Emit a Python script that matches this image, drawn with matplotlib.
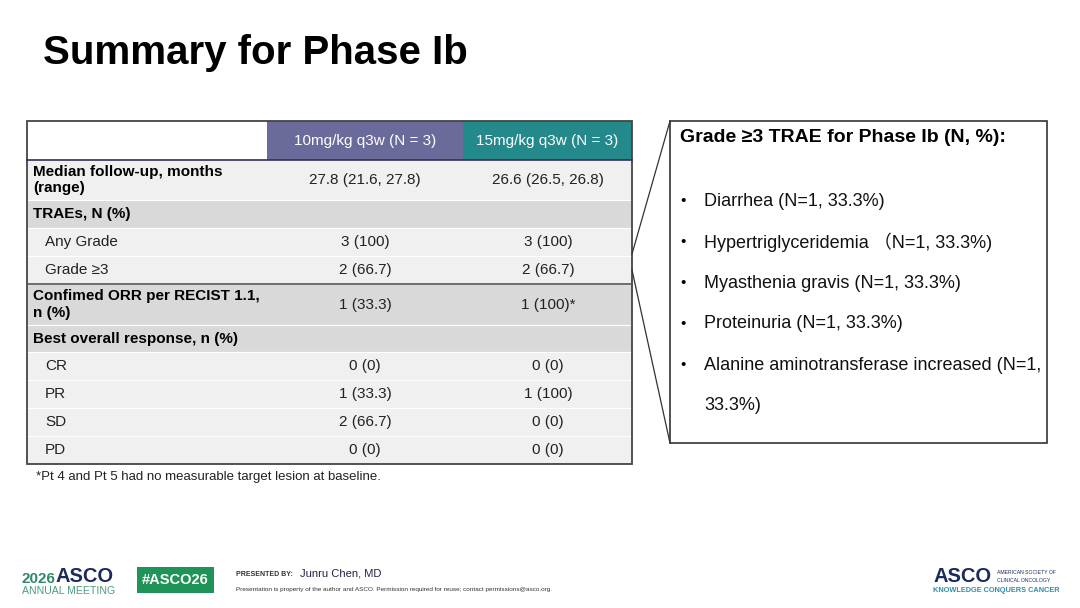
import matplotlib
matplotlib.use("Agg")
import matplotlib.pyplot as plt
from matplotlib.patches import Rectangle

plt.rcParams['font.family'] = ['Liberation Sans', 'Noto Sans CJK SC', 'DejaVu Sans']

# ---------------- data ----------------
title = "Summary for Phase Ib"
col_headers = ["10mg/kg q3w (N = 3)", "15mg/kg q3w (N = 3)"]
row_labels = ["Median follow-up, months\n(range)", "TRAEs, N (%)", "Any Grade", "Grade ≥3",
              "Confimed ORR per RECIST 1.1,\nn (%)", "Best overall response, n (%)",
              "CR", "PR", "SD", "PD"]
dose_10 = ["27.8 (21.6, 27.8)", "", "3 (100)", "2 (66.7)", "1 (33.3)", "", "0 (0)", "1 (33.3)", "2 (66.7)", "0 (0)"]
dose_15 = ["26.6 (26.5, 26.8)", "", "3 (100)", "2 (66.7)", "1 (100)*", "", "0 (0)", "1 (100)", "0 (0)", "0 (0)"]
row_bold = [True, True, False, False, True, True, False, False, False, False]
row_shade = ["light", "dark", "light", "light", "dark", "dark", "light", "light", "light", "light"]
footnote = "*Pt 4 and Pt 5 had no measurable target lesion at baseline."
box_title = "Grade ≥3 TRAE for Phase Ib (N, %):"
box_items = [["Diarrhea (N=1, 33.3%)"], ["Hypertriglyceridemia （N=1, 33.3%)"], ["Myasthenia gravis (N=1, 33.3%)"],
             ["Proteinuria (N=1, 33.3%)"], ["Alanine aminotransferase increased (N=1,", "33.3%)"]]

# ---------------- layout ----------------
W, H = 1080, 608
fig = plt.figure(figsize=(10.8, 6.08), dpi=100)
ax = fig.add_axes([0, 0, 1, 1])
ax.set_xlim(0, W)
ax.set_ylim(H, 0)
ax.axis('off')

shade = {"light": "#f0f0f0", "dark": "#d9d9d9"}
hdr_colors = ["#6b6b9b", "#23898b"]

ax.text(43, 53, title, fontsize=29, fontweight='bold', va='center', ha='left', color='black')

# table geometry
tx0, tx1 = 27, 632
cx = [27, 267, 463, 632]
ytop = 121
hdr_h = 39
row_h = [40, 28, 28, 28, 41, 27, 28, 28, 28, 28]

# header
for j in range(2):
    ax.add_patch(Rectangle((cx[j + 1], ytop), cx[j + 2] - cx[j + 1], hdr_h, facecolor=hdr_colors[j], edgecolor='none'))
    ax.text((cx[j + 1] + cx[j + 2]) / 2, ytop + hdr_h / 2 + 1, col_headers[j], fontsize=11, color='white',
            ha='center', va='center')

y = ytop + hdr_h
val_x = [365, 548]
for i, lab in enumerate(row_labels):
    h = row_h[i]
    ax.add_patch(Rectangle((tx0, y), tx1 - tx0, h, facecolor=shade[row_shade[i]], edgecolor='white', lw=0.8))
    yc = y + h / 2
    if row_bold[i]:
        ax.text(33, yc, lab, fontsize=11, fontweight='bold', ha='left', va='center', linespacing=1.25)
    else:
        ax.text(45, yc, lab, fontsize=11, ha='left', va='center', color='#222222')
    ax.text(val_x[0], yc, dose_10[i], fontsize=11, ha='center', va='center', color='#222222')
    ax.text(val_x[1], yc, dose_15[i], fontsize=11, ha='center', va='center', color='#222222')
    y += h
ybot = y

# lines
ax.plot([tx0, tx1], [ytop + hdr_h, ytop + hdr_h], color='#2e3050', lw=1.2)
y_orr = ytop + hdr_h + sum(row_h[:4])
ax.plot([tx0, tx1], [y_orr, y_orr], color='#555555', lw=1.2)
ax.add_patch(Rectangle((tx0, ytop), tx1 - tx0, ybot - ytop, facecolor='none', edgecolor='#444444', lw=1.3))

ax.text(36, 477, footnote, fontsize=9.5, ha='left', va='center', color='#222222')

# callout box
bx0, bx1, by0, by1 = 670, 1047, 121, 443
ax.plot([632, bx0], [254, by0], color='#333333', lw=0.9)
ax.plot([632, bx0], [270, by1], color='#333333', lw=0.9)
ax.add_patch(Rectangle((bx0, by0), bx1 - bx0, by1 - by0, facecolor='white', edgecolor='#333333', lw=1.2))
ax.text(680, 138, box_title, fontsize=14, fontweight='bold', ha='left', va='center')
yy = 201
for lines in box_items:
    ax.text(680, yy, "•", fontsize=11, ha='left', va='center')
    for ln in lines:
        ax.text(704, yy, ln, fontsize=13, ha='left', va='center', color='#111111')
        yy += 41

# footer
ax.text(22, 579, "2026", fontsize=11, fontweight='bold', color='#2f8a66', ha='left', va='center')
ax.text(55, 576, "ASCO", fontsize=14.5, fontweight='bold', color='#1c2a5e', ha='left', va='center')
ax.text(22, 590.5, "ANNUAL MEETING", fontsize=7.6, color='#4a9d80', ha='left', va='center')
ax.add_patch(Rectangle((137, 567), 77, 26, facecolor='#1e9458', edgecolor='none'))
ax.text(175.5, 580, "#ASCO26", fontsize=10.5, fontweight='bold', color='white', ha='center', va='center')
ax.text(236, 575, "PRESENTED BY:", fontsize=5, fontweight='bold', color='#333333', ha='left', va='center')
ax.text(300, 574, "Junru Chen, MD", fontsize=8, color='#222244', ha='left', va='center')
ax.text(236, 590, "Presentation is property of the author and ASCO. Permission required for reuse; contact permissions@asco.org.",
        fontsize=4.6, color='#333333', ha='left', va='center')

ax.text(933, 577, "ASCO", fontsize=14.5, fontweight='bold', color='#1c2a5e', ha='left', va='center')
ax.text(997, 573, "AMERICAN SOCIETY OF", fontsize=3.7, color='#1c2a5e', ha='left', va='center')
ax.text(997, 580, "CLINICAL ONCOLOGY", fontsize=3.7, color='#1c2a5e', ha='left', va='center')
ax.text(933, 590, "KNOWLEDGE CONQUERS CANCER", fontsize=5.3, fontweight='bold', color='#2f8fa6', ha='left', va='center')

fig.savefig("out.png", dpi=100, facecolor='white')
